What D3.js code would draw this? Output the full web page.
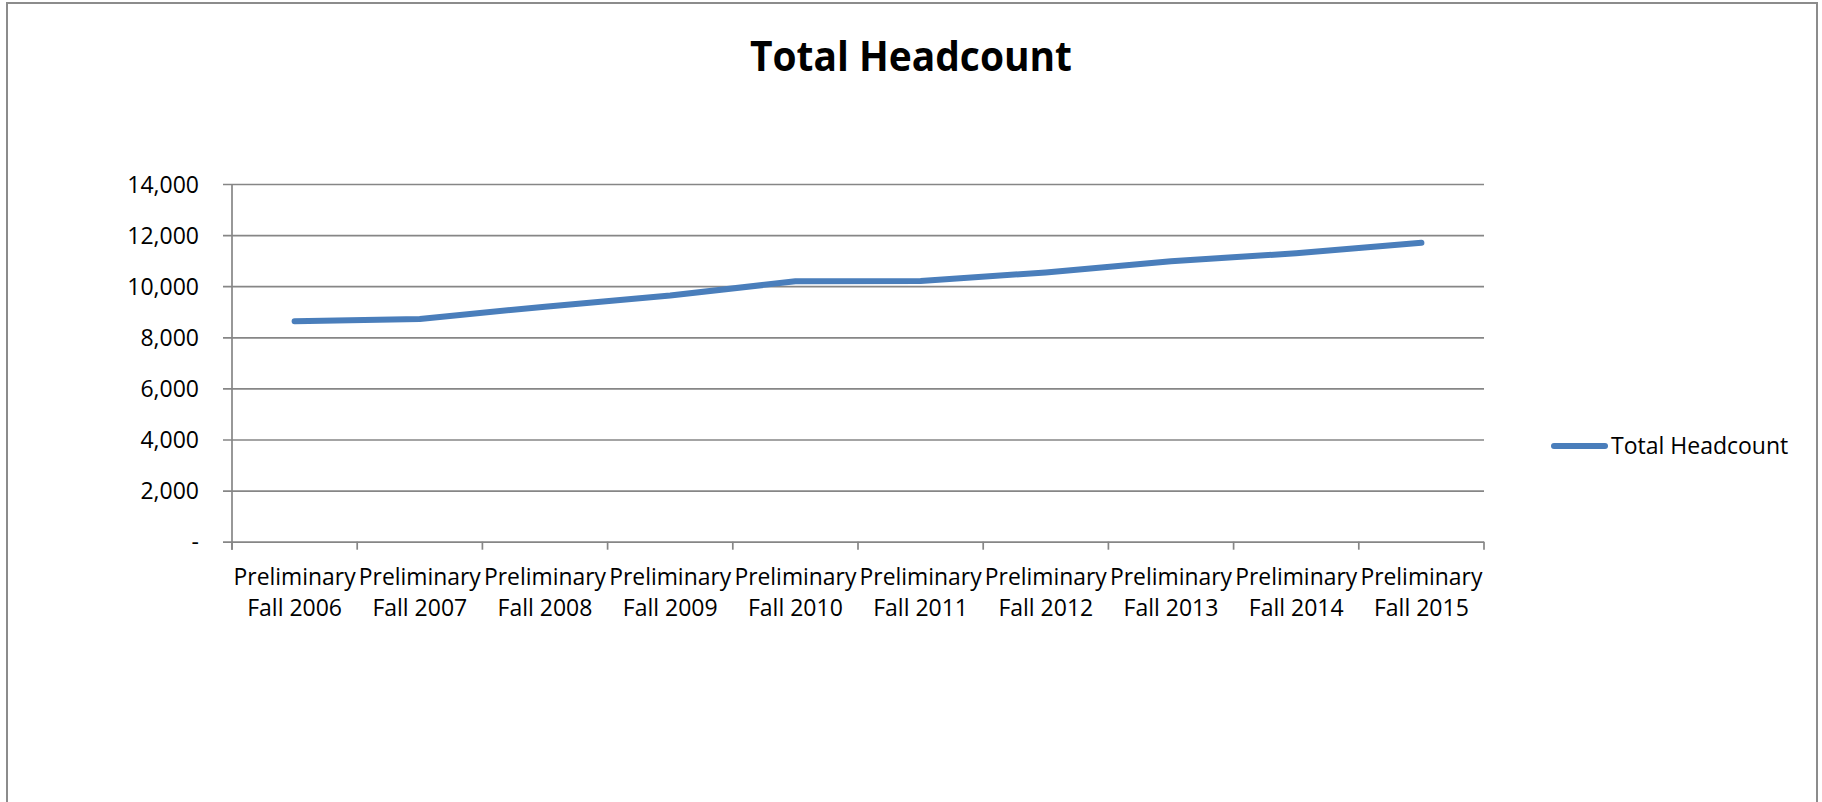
<!DOCTYPE html>
<html>
<head>
<meta charset="utf-8">
<script src="https://cdn.jsdelivr.net/npm/d3@7"></script>
<style>
  body { margin: 0; background: #fff; }
  text { font-family: "Open Sans", sans-serif; fill: #000; }
</style>
</head>
<body>
<div id="chart"></div>
<script>

// Chart size and margins
const width = 1822;
const height = 802;
const margin = {left: 232, right: 338, top: 184, bottom: 260};

// Data
const years = ["Fall 2006", "Fall 2007", "Fall 2008", "Fall 2009", "Fall 2010",
               "Fall 2011", "Fall 2012", "Fall 2013", "Fall 2014", "Fall 2015"];
const headcount = [8630, 8720, 9200, 9640, 10190, 10200, 10540, 10980, 11290, 11700];
const yTicks = [0, 2000, 4000, 6000, 8000, 10000, 12000, 14000];
const seriesName = "Total Headcount";

const svg = d3.select("#chart")
  .append("svg")
  .attr("width", width)
  .attr("height", height);

// Outer frame (open at the bottom)
svg.append("path")
  .attr("d", `M7,${height} V3 H1817 V${height}`)
  .attr("fill", "none")
  .attr("stroke", "#8c8c8c")
  .attr("stroke-width", 2);

// Title
svg.append("text")
  .attr("x", width / 2)
  .attr("y", 71)
  .attr("text-anchor", "middle")
  .attr("font-size", "41px")
  .attr("font-weight", "bold")
  .attr("textLength", 322)
  .attr("lengthAdjust", "spacingAndGlyphs")
  .text("Total Headcount");

/*
  Scales
*/
const xScale = d3.scaleBand()
  .domain(d3.range(years.length))
  .range([margin.left, width - margin.right]);

const yScale = d3.scaleLinear()
  .domain([0, 14000])
  .range([height - margin.bottom - 0.3, margin.top]);

/*
  Axes
*/
// y axis with gridlines
const yAxis = svg.append("g")
  .attr("transform", `translate(${margin.left}, 0)`)
  .call(d3.axisLeft(yScale)
    .tickValues(yTicks)
    .tickSize(-(width - margin.left - margin.right))
    .tickSizeOuter(0)
    .tickPadding(33)
    .tickFormat(d => d === 0 ? "-" : d3.format(",")(d)));
yAxis.select(".domain").remove();
yAxis.selectAll(".tick line")
  .attr("x1", -9)
  .attr("stroke", "#868686")
  .attr("stroke-width", 1.7);
yAxis.selectAll(".tick text")
  .attr("font-size", "23px")
  .attr("dy", "0.36em");

// vertical axis line
svg.append("line")
  .attr("x1", margin.left).attr("x2", margin.left)
  .attr("y1", margin.top).attr("y2", yScale(0) + 8)
  .attr("stroke", "#868686")
  .attr("stroke-width", 1.7);

// x tick marks at category boundaries
svg.selectAll(".xtick")
  .data(d3.range(years.length + 1))
  .enter()
  .append("line")
    .attr("class", "xtick")
    .attr("x1", i => margin.left + i * xScale.step())
    .attr("x2", i => margin.left + i * xScale.step())
    .attr("y1", yScale(0))
    .attr("y2", yScale(0) + 8)
    .attr("stroke", "#868686")
    .attr("stroke-width", 1.7);

// two-line category labels
const labels = svg.selectAll(".xlabel")
  .data(years)
  .enter()
  .append("text")
    .attr("class", "xlabel")
    .attr("text-anchor", "middle")
    .attr("font-size", "23px");
labels.append("tspan")
  .attr("x", (d, i) => xScale(i) + xScale.bandwidth() / 2)
  .attr("y", 585)
  .attr("textLength", 122)
  .attr("lengthAdjust", "spacingAndGlyphs")
  .text("Preliminary");
labels.append("tspan")
  .attr("x", (d, i) => xScale(i) + xScale.bandwidth() / 2)
  .attr("y", 616)
  .text(d => d);

/*
  Line
*/
const line = d3.line()
  .x((d, i) => xScale(i) + xScale.bandwidth() / 2)
  .y(d => yScale(d));

svg.append("path")
  .datum(headcount)
  .attr("d", line)
  .attr("fill", "none")
  .attr("stroke", "#4a7ebb")
  .attr("stroke-width", 6)
  .attr("stroke-linecap", "round")
  .attr("stroke-linejoin", "round");

/*
  Legend
*/
svg.append("line")
  .attr("x1", 1554).attr("x2", 1605)
  .attr("y1", 446).attr("y2", 446)
  .attr("stroke", "#4a7ebb")
  .attr("stroke-width", 6)
  .attr("stroke-linecap", "round");

svg.append("text")
  .attr("x", 1611)
  .attr("y", 454)
  .attr("font-size", "23px")
  .text(seriesName);

</script>
</body>
</html>
